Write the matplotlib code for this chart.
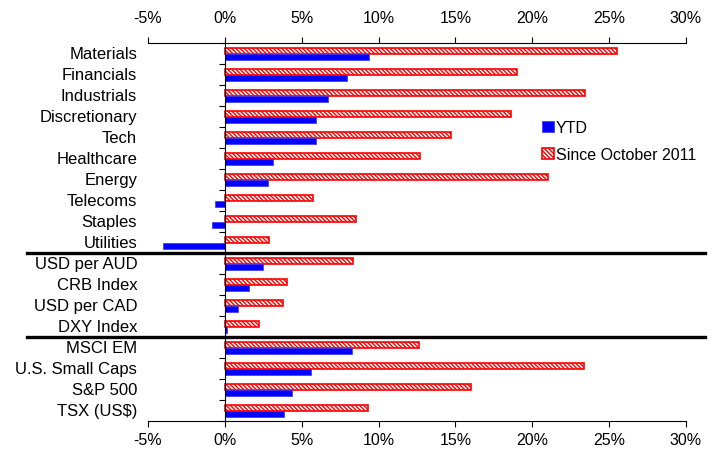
import numpy as np
import matplotlib
matplotlib.use('Agg')
import matplotlib.pyplot as plt
from matplotlib.transforms import blended_transform_factory

plt.rcParams['font.family'] = ['Liberation Sans', 'DejaVu Sans']
plt.rcParams['hatch.linewidth'] = 1.0

categories = ['Materials', 'Financials', 'Industrials', 'Discretionary', 'Tech',
              'Healthcare', 'Energy', 'Telecoms', 'Staples', 'Utilities',
              'USD per AUD', 'CRB Index', 'USD per CAD', 'DXY Index',
              'MSCI EM', 'U.S. Small Caps', 'S&P 500', 'TSX (US\\$)']
ytd = [9.4, 7.95, 6.7, 5.9, 5.9, 3.1, 2.8, -0.65, -0.85, -4.05,
       2.5, 1.6, 0.85, 0.15, 8.25, 5.6, 4.35, 3.85]
since_oct = [25.5, 19.0, 23.4, 18.6, 14.7, 12.7, 21.0, 5.75, 8.55, 2.9,
             8.35, 4.05, 3.75, 2.2, 12.6, 23.35, 16.0, 9.3]
group_breaks = [9.5, 13.5]
xticks = [-5, 0, 5, 10, 15, 20, 25, 30]
xlabels = [f'{v}%' for v in xticks]

fig = plt.figure(figsize=(7.2, 4.52), dpi=100)
ax = fig.add_axes([148/720, 1 - 422/452, 538/720, 378/452])

y = np.arange(len(categories))
h = 0.29
ax.barh(y - 0.135, since_oct, height=h, color='white', edgecolor='red',
        hatch='\\\\\\\\\\\\\\\\', linewidth=1.2, label='Since October 2011', zorder=2)
ax.barh(y + 0.155, ytd, height=h, color='#0000FF', edgecolor='#3333ff',
        linewidth=0.5, label='YTD', zorder=2)

ax.set_xlim(-5, 30)
ax.set_ylim(len(categories) - 0.5, -0.5)

# bottom x axis
ax.set_xticks(xticks)
ax.set_xticklabels(xlabels)
ax.tick_params(axis='x', direction='out', length=4, width=0.8, pad=4, labelsize=11.5)

# top x axis, same scale
top = ax.secondary_xaxis('top')
top.set_xticks(xticks)
top.set_xticklabels(xlabels)
top.tick_params(axis='x', direction='out', length=4, width=0.8, pad=9, labelsize=11.5)
top.spines['top'].set_linewidth(0.8)
ax.spines['top'].set_visible(False)

# y axis drawn at zero, ticks between rows
ax.spines['right'].set_visible(False)
ax.spines['left'].set_position(('data', 0))
ax.set_yticks(np.arange(-0.5, len(categories) + 0.5, 1))
ax.set_yticklabels([])
ax.tick_params(axis='y', direction='out', length=4, width=0.8)
for s in ['bottom', 'left']:
    ax.spines[s].set_linewidth(0.8)

trans = blended_transform_factory(ax.transAxes, ax.transData)
for i, name in enumerate(categories):
    ax.text(-0.02, i, name, transform=trans, ha='right', va='center', fontsize=12)

for b in group_breaks:
    ax.plot([-0.225, 1.035], [b, b], transform=trans, color='black',
            linewidth=2.4, clip_on=False, zorder=5)

handles, labels = ax.get_legend_handles_labels()
fig.legend(handles[::-1], labels[::-1], loc='upper left',
           bbox_to_anchor=(542/720, 1 - 121/452), frameon=False,
           fontsize=11.5, handlelength=0.75, handleheight=0.75,
           handletextpad=0.1, labelspacing=0.75, borderpad=0, borderaxespad=0)

fig.savefig('out.png', dpi=100)
